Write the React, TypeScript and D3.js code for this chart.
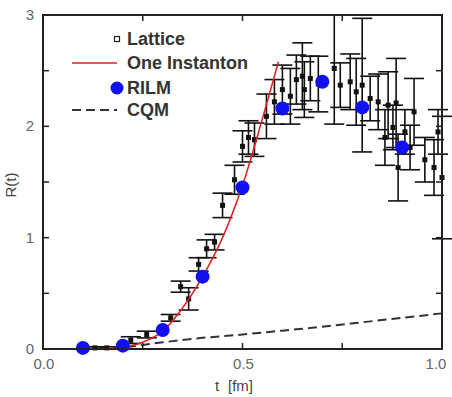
import React from "react";
import * as d3 from "d3";

const W = 452, H = 397;

// Lattice data: t, R, error
const latticeT = [0.13,0.16,0.22,0.26,0.32,0.345,0.365,0.39,0.41,0.43,0.45,0.48,0.50,0.515,0.53,0.56,0.58,0.60,0.62,0.635,0.65,0.655,0.67,0.69,0.73,0.745,0.77,0.785,0.80,0.82,0.84,0.857,0.865,0.877,0.885,0.89,0.907,0.92,0.93,0.957,0.98,0.99,1.0];
const latticeR = [0.01,0.01,0.08,0.13,0.28,0.56,0.45,0.76,0.9,0.96,1.29,1.52,1.82,1.9,1.88,2.09,2.22,2.33,2.27,2.42,2.45,2.33,2.43,2.38,2.52,2.37,2.40,2.31,2.37,2.25,2.22,1.9,2.19,1.99,2.21,1.63,1.95,1.81,2.13,1.7,1.63,1.95,1.54];
const latticeErr = [0.01,0.01,0.03,0.03,0.03,0.05,0.1,0.06,0.08,0.07,0.11,0.13,0.14,0.15,0.15,0.2,0.2,0.22,0.25,0.22,0.3,0.25,0.2,0.25,0.5,0.2,0.25,0.3,0.6,0.2,0.25,0.25,0.3,0.2,0.4,0.3,0.2,0.2,0.3,0.2,0.25,0.2,0.55];

// One instanton curve
const instT = [0.1,0.15,0.2,0.25,0.3,0.35,0.4,0.45,0.5,0.55,0.59];
const instR = [0.0,0.003,0.015,0.06,0.16,0.37,0.65,1.0,1.47,2.07,2.58];

// RILM
const rilmT = [0.1,0.2,0.3,0.4,0.5,0.6,0.7,0.8,0.9];
const rilmR = [0.01,0.03,0.17,0.65,1.45,2.16,2.40,2.17,1.81];

// CQM
const cqmT = [0.0,0.1,0.2,0.3,0.4,0.5,0.6,0.7,0.8,0.9,1.0];
const cqmR = [0.0,0.0,0.015,0.06,0.1,0.13,0.165,0.2,0.24,0.28,0.32];

const xTicks = [0, 0.25, 0.5, 0.75, 1.0];
const xTickLabels = ["0.0", "", "0.5", "", "1.0"];
const yTicks = [0, 0.5, 1, 1.5, 2, 2.5, 3];
const yTickLabels = ["0", "", "1", "", "2", "", "3"];

const legendLabels = ["Lattice", "One Instanton", "RILM", "CQM"];

export default function App() {
  const x = d3.scaleLinear().domain([0, 1]).range([43, 442]);
  const y = d3.scaleLinear().domain([0, 3]).range([349, 15]);
  const line = d3.line<[number, number]>().x(d => x(d[0])).y(d => y(d[1])).curve(d3.curveCatmullRom);
  const inst = line(instT.map((t, i) => [t, instR[i]]));
  const cqm = line(cqmT.map((t, i) => [t, cqmR[i]]));
  const font = "'Liberation Sans', Arial, sans-serif";
  const tickLen = 6;
  const cap = 10;
  return (
    <svg width={W} height={H} style={{ position: "absolute", left: 0, top: 0, background: "#fff" }} fontFamily={font}>
      {/* CQM dashed */}
      <path d={cqm || ""} fill="none" stroke="#333" strokeWidth={2} strokeDasharray="9,5" />
      {/* lattice error bars */}
      <g stroke="#111" strokeWidth={1.6}>
        {latticeT.map((t, i) => {
          const cx = x(t);
          const y0 = Math.max(y(latticeR[i] + latticeErr[i]), y(3));
          const y1 = y(latticeR[i] - latticeErr[i]);
          return (
            <g key={i}>
              <line x1={cx} x2={cx} y1={y0} y2={y1} />
              <line x1={cx - cap} x2={cx + cap} y1={y0} y2={y0} />
              <line x1={cx - cap} x2={cx + cap} y1={y1} y2={y1} />
            </g>
          );
        })}
      </g>
      <g fill="#111">
        {latticeT.map((t, i) => (
          <rect key={i} x={x(t) - 2.5} y={y(latticeR[i]) - 2.5} width={5} height={5} />
        ))}
      </g>
      {/* One instanton */}
      <path d={inst || ""} fill="none" stroke="#e02020" strokeWidth={1.5} />
      {/* RILM */}
      <g fill="#1010f0">
        {rilmT.map((t, i) => (
          <circle key={i} cx={x(t)} cy={y(rilmR[i])} r={7} />
        ))}
      </g>
      {/* frame */}
      <rect x={43} y={15} width={399} height={334} fill="none" stroke="#222" strokeWidth={2} />
      {/* ticks */}
      <g stroke="#222" strokeWidth={1.5}>
        {xTicks.map((t, i) => (
          <g key={i}>
            <line x1={x(t)} x2={x(t)} y1={y(0)} y2={y(0) - tickLen} />
            <line x1={x(t)} x2={x(t)} y1={y(3)} y2={y(3) + tickLen} />
          </g>
        ))}
        {yTicks.map((v, i) => (
          <g key={i}>
            <line x1={x(0)} x2={x(0) + tickLen} y1={y(v)} y2={y(v)} />
            <line x1={x(1)} x2={x(1) - tickLen} y1={y(v)} y2={y(v)} />
          </g>
        ))}
      </g>
      <g fill="#666" fontSize={15}>
        {xTicks.map((t, i) => (
          <text key={i} x={x(t) + (i === 4 ? -6 : 1)} y={369} textAnchor="middle">{xTickLabels[i]}</text>
        ))}
        {yTicks.map((v, i) => (
          <text key={i} x={34} y={y(v) + 5} textAnchor="end">{yTickLabels[i]}</text>
        ))}
      </g>
      {/* axis titles */}
      <text x={215} y={391} fill="#444" fontSize={15}>t</text>
      <text x={228} y={391} fill="#444" fontSize={15}>[fm]</text>
      <text transform={`translate(16,185) rotate(-90)`} textAnchor="middle" fill="#444" fontSize={15}>R(t)</text>
      {/* legend */}
      <rect x={114.5} y={36.5} width={5} height={5} fill="#fff" stroke="#222" strokeWidth={1.2} />
      <line x1={72} x2={117} y1={63} y2={63} stroke="#e02020" strokeWidth={1.5} />
      <circle cx={117} cy={88} r={6.5} fill="#1010f0" />
      <line x1={72} x2={117} y1={110} y2={110} stroke="#333" strokeWidth={2} strokeDasharray="9,5" />
      <g fill="#333" fontSize={18} fontWeight="bold">
        {legendLabels.map((l, i) => (
          <text key={i} x={127} y={[45, 69, 94, 116][i]}>{l}</text>
        ))}
      </g>
    </svg>
  );
}
